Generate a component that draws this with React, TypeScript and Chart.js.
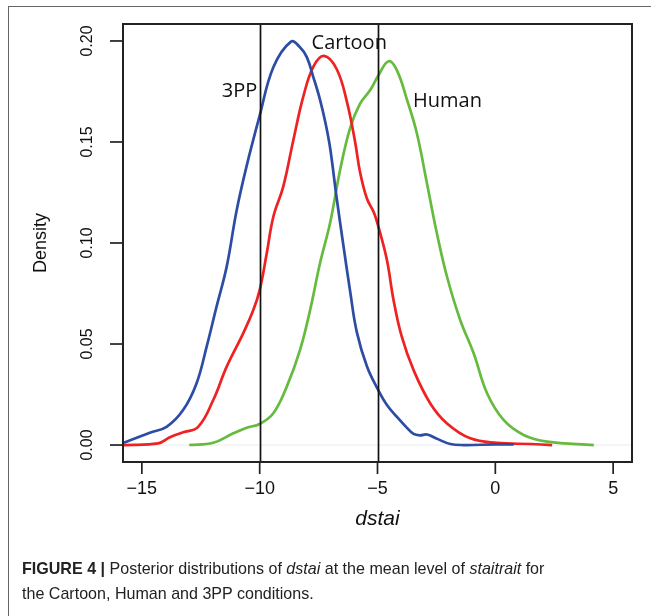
import React, { useEffect, useRef } from "react";
import { Chart, registerables } from "chart.js";

Chart.register(...registerables);

// ---- data ----
const xTicks = [-15, -10, -5, 0, 5];
const yTicks = [0, 0.05, 0.1, 0.15, 0.2];
const yTickLabels = ["0.00", "0.05", "0.10", "0.15", "0.20"];
const refLines = [-10, -5];
const seriesNames = ["3PP", "Cartoon", "Human"];

const ppX = [-15.76, -14.66, -13.95, -13.25, -12.68, -12.25, -11.83, -11.4, -10.98, -10.56, -10.0, -9.42, -8.67, -8.3, -8.0, -7.72, -7.44, -7.2, -7.01, -6.73, -6.45, -6.16, -5.88, -5.45, -4.96, -4.6, -4.18, -3.75, -3.47, -3.2, -2.9, -2.5, -1.91, -1.35, 0.0, 0.78];
const ppY = [0.0011, 0.0061, 0.009, 0.0173, 0.0305, 0.0487, 0.0685, 0.0883, 0.116, 0.1378, 0.163, 0.187, 0.1997, 0.197, 0.192, 0.182, 0.171, 0.159, 0.147, 0.122, 0.099, 0.076, 0.056, 0.039, 0.027, 0.0198, 0.014, 0.0085, 0.0055, 0.0048, 0.0052, 0.0032, 0.0005, 0.0, 0.0003, 0.0003];

const cartoonX = [-15.76, -14.31, -13.81, -13.25, -12.61, -11.97, -11.4, -10.7, -10.27, -10.0, -9.7, -9.42, -9.0, -8.57, -8.15, -7.72, -7.27, -6.73, -6.3, -5.95, -5.74, -5.45, -5.15, -4.96, -4.6, -4.32, -3.97, -3.47, -2.76, -2.05, -1.06, 0.07, 1.49, 2.41];
const cartoonY = [0.0, 0.0008, 0.0038, 0.0063, 0.009, 0.0223, 0.0388, 0.0553, 0.0668, 0.0767, 0.0949, 0.113, 0.1279, 0.151, 0.1724, 0.1873, 0.1926, 0.186, 0.17, 0.15, 0.135, 0.122, 0.115, 0.108, 0.0916, 0.0718, 0.0536, 0.0371, 0.0206, 0.0107, 0.0033, 0.0011, 0.0005, 0.0];

const humanX = [-12.99, -11.97, -11.12, -10.55, -10.0, -9.42, -8.85, -8.29, -7.86, -7.44, -7.01, -6.59, -6.16, -5.74, -5.31, -4.96, -4.53, -4.18, -3.75, -3.33, -2.9, -2.48, -2.05, -1.49, -0.92, -0.35, 0.35, 1.2, 2.2, 4.18];
const humanY = [0.0, 0.0011, 0.0058, 0.0086, 0.0104, 0.0157, 0.0289, 0.047, 0.0668, 0.09, 0.11, 0.136, 0.157, 0.169, 0.1757, 0.183, 0.19, 0.1856, 0.171, 0.1543, 0.1295, 0.1048, 0.0833, 0.0619, 0.0454, 0.0256, 0.0124, 0.005, 0.0017, 0.0];

const COLORS = ["#2d4ca4", "#ee2222", "#66bb3f"];

const toPoints = (xs: number[], ys: number[]) => xs.map((x, i) => ({ x, y: ys[i] }));

const decor = {
  id: "rdecor",
  beforeDatasetsDraw(chart: any) {
    const { ctx, chartArea: a, scales } = chart;
    const y0 = scales.y.getPixelForValue(0);
    ctx.save();
    ctx.strokeStyle = "#ececec";
    ctx.lineWidth = 1;
    ctx.beginPath();
    ctx.moveTo(a.left, y0);
    ctx.lineTo(a.right, y0);
    ctx.stroke();
    ctx.restore();
  },
  afterDatasetsDraw(chart: any) {
    const { ctx, chartArea: a, scales } = chart;
    const xs = scales.x;
    const ys = scales.y;
    ctx.save();
    // reference lines
    ctx.strokeStyle = "#111";
    ctx.lineWidth = 1.7;
    refLines.forEach((v) => {
      const px = Math.round(xs.getPixelForValue(v)) + 0.5;
      ctx.beginPath();
      ctx.moveTo(px, a.top);
      ctx.lineTo(px, a.bottom);
      ctx.stroke();
    });
    // box
    ctx.strokeStyle = "#222";
    ctx.lineWidth = 2;
    ctx.strokeRect(a.left, a.top, a.right - a.left, a.bottom - a.top);
    // ticks
    ctx.lineWidth = 1.7;
    xTicks.forEach((v) => {
      const px = xs.getPixelForValue(v);
      ctx.beginPath();
      ctx.moveTo(px, a.bottom);
      ctx.lineTo(px, a.bottom + 12);
      ctx.stroke();
    });
    yTicks.forEach((v) => {
      const py = ys.getPixelForValue(v);
      ctx.beginPath();
      ctx.moveTo(a.left, py);
      ctx.lineTo(a.left - 13, py);
      ctx.stroke();
    });
    // tick labels
    ctx.fillStyle = "#111";
    ctx.textAlign = "center";
    ctx.textBaseline = "middle";
    ctx.font = "18px 'Liberation Sans', Arial, sans-serif";
    xTicks.forEach((v) => {
      const px = xs.getPixelForValue(v);
      ctx.fillText(String(v).replace("-", "\u2212"), px, a.bottom + 27);
    });
    ctx.font = "16px 'Liberation Sans', Arial, sans-serif";
    yTicks.forEach((v, i) => {
      const py = ys.getPixelForValue(v);
      ctx.save();
      ctx.translate(a.left - 35, py);
      ctx.rotate(-Math.PI / 2);
      ctx.fillText(yTickLabels[i], 0, 0);
      ctx.restore();
    });
    // axis titles
    ctx.font = "18px 'Liberation Sans', Arial, sans-serif";
    ctx.save();
    ctx.translate(41, (a.top + a.bottom) / 2);
    ctx.rotate(-Math.PI / 2);
    ctx.fillText("Density", 0, 0);
    ctx.restore();
    ctx.font = "italic 21px 'Liberation Sans', Arial, sans-serif";
    ctx.fillText("dstai", (a.left + a.right) / 2, 519);
    // series labels
    ctx.font = "20px 'Open Sans', sans-serif";
    ctx.fillStyle = "#111";
    ctx.textAlign = "right";
    ctx.fillText(seriesNames[0], xs.getPixelForValue(-10.1), ys.getPixelForValue(0.175));
    ctx.textAlign = "center";
    ctx.fillText(seriesNames[1], xs.getPixelForValue(-6.2), ys.getPixelForValue(0.199));
    ctx.textAlign = "left";
    ctx.fillText(seriesNames[2], xs.getPixelForValue(-3.49), ys.getPixelForValue(0.17));
    ctx.restore();
  },
};

export default function App() {
  const ref = useRef<HTMLCanvasElement>(null);
  useEffect(() => {
    const xsList = [ppX, cartoonX, humanX];
    const ysList = [ppY, cartoonY, humanY];
    const chart = new Chart(ref.current!, {
      type: "line",
      data: {
        datasets: seriesNames.map((name, i) => ({
          label: name,
          data: toPoints(xsList[i], ysList[i]),
          borderColor: COLORS[i],
          borderWidth: 2.7,
          pointRadius: 0,
          fill: false,
          tension: 0.4,
        })),
      },
      options: {
        responsive: false,
        animation: false,
        layout: { padding: { top: 24, right: 19, left: 0, bottom: 0 } },
        plugins: { legend: { display: false }, tooltip: { enabled: false } },
        scales: {
          x: {
            type: "linear",
            min: -15.8,
            max: 5.8,
            grid: { display: false },
            border: { display: false },
            ticks: { display: false },
            afterFit: (s: any) => {
              s.height = 154;
            },
          },
          y: {
            type: "linear",
            min: -0.0084,
            max: 0.2084,
            grid: { display: false },
            border: { display: false },
            ticks: { display: false },
            afterFit: (s: any) => {
              s.width = 123;
            },
          },
        },
      },
      plugins: [decor],
    });
    let alive = true;
    if ((document as any).fonts && (document as any).fonts.ready) {
      (document as any).fonts.ready.then(() => {
        if (alive) chart.update();
      });
    }
    return () => {
      alive = false;
      chart.destroy();
    };
  }, []);

  const cap: React.CSSProperties = {
    position: "absolute",
    left: 22,
    top: 556,
    fontFamily: "'Liberation Sans', Arial, sans-serif",
    fontSize: 17,
    lineHeight: "25px",
    color: "#222",
    whiteSpace: "nowrap",
    transform: "scaleX(0.945)",
    transformOrigin: "left top",
  };

  return (
    <div style={{ position: "absolute", left: 0, top: 0, width: 651, height: 616, background: "#fff", overflow: "hidden" }}>
      <div
        style={{
          position: "absolute",
          left: 8,
          top: 6,
          width: 643,
          height: 610,
          borderTop: "1.5px solid #666",
          borderLeft: "1.5px solid #666",
          boxSizing: "border-box",
        }}
      />
      <canvas ref={ref} width={651} height={616} style={{ position: "absolute", left: 0, top: 0, width: 651, height: 616 }} />
      <div style={cap}>
        <b>FIGURE 4 |</b> Posterior distributions of <i>dstai</i> at the mean level of <i>staitrait</i> for
        <br />
        the Cartoon, Human and 3PP conditions.
      </div>
    </div>
  );
}
